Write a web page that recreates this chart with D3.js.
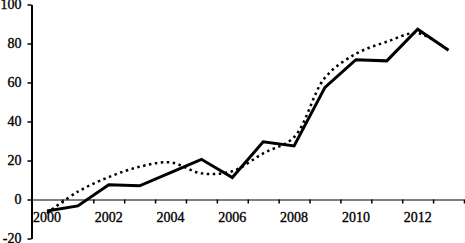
<!DOCTYPE html>
<html>
<head>
<meta charset="utf-8">
<script src="https://cdn.jsdelivr.net/npm/d3@7"></script>
<style>
html, body { margin: 0; padding: 0; background: #fff; }
svg { display: block; }
text { font-family: "Liberation Serif", "Times New Roman", serif; font-size: 14px; fill: #000; }
</style>
</head>
<body>
<svg id="chart" width="465" height="243"></svg>
<script>
const years = [2000, 2001, 2002, 2003, 2004, 2005, 2006, 2007, 2008, 2009, 2010, 2011, 2012, 2013];
const actualValues = [-5.9, -3.3, 7.6, 7.0, 13.8, 20.6, 11.3, 29.6, 27.5, 57.5, 71.7, 71.1, 87.3, 76.5];
const trendValues = [-7, 4, 11.5, 16.8, 19.0, 13.4, 14.5, 23.7, 32, 62.5, 74.7, 80.9, 85.3, 76.5];
const yTicks = [-20, 0, 20, 40, 60, 80, 100];
const xLabels = [2000, 2002, 2004, 2006, 2008, 2010, 2012];

const svg = d3.select("#chart");
const mLeft = 31.5, mRight = 464, mTop = 4.5, mBottom = 238.5;

const y = d3.scaleLinear().domain([-20, 100]).range([mBottom, mTop]);
const xb = d3.scaleBand().domain(years).range([mLeft, mRight]).paddingInner(0).paddingOuter(0);
const xi = d3.scaleLinear().domain([0, years.length]).range([mLeft, mRight]);
const xc = d => xb(d) + xb.bandwidth() / 2;

function styleText(g) {
  g.selectAll("text")
    .style("font-family", "'Liberation Serif', 'Times New Roman', serif")
    .style("font-size", "14px")
    .attr("fill", "#000")
    .attr("stroke", "#000")
    .attr("stroke-width", 0.35);
}

// x axis (at y=0) with ticks at category boundaries
const xAxisG = svg.append("g").attr("transform", `translate(0,${y(0)})`)
  .call(d3.axisBottom(xi).tickValues(d3.range(1, years.length + 1)).tickFormat("").tickSize(4).tickSizeOuter(0));
xAxisG.select(".domain").attr("stroke", "#000").attr("stroke-width", 1);
xAxisG.selectAll(".tick line").attr("stroke", "#000").attr("stroke-width", 1.5);

// x labels at category centres
const xLab = svg.append("g").attr("transform", `translate(0,${y(0)})`)
  .call(d3.axisBottom(xb).tickValues(xLabels).tickSize(0).tickPadding(12.6));
xLab.select(".domain").remove();
styleText(xLab);

// y axis
const yAxisG = svg.append("g").attr("transform", `translate(${mLeft},0)`)
  .call(d3.axisLeft(y).tickValues(yTicks).tickFormat(d => String(d)).tickSize(4).tickPadding(6).tickSizeOuter(0));
yAxisG.select(".domain").attr("stroke", "#000").attr("stroke-width", 2);
yAxisG.selectAll(".tick line").attr("stroke", "#000").attr("stroke-width", 1.5);
styleText(yAxisG);

// trend (dotted)
const trendLine = d3.line().x((d, i) => xc(years[i])).y(d => y(d)).curve(d3.curveCatmullRom.alpha(0.5));
svg.append("path").datum(trendValues).attr("d", trendLine)
  .attr("fill", "none").attr("stroke", "#000").attr("stroke-width", 2.5)
  .attr("stroke-dasharray", "2.5,3.5");

// actual (solid)
const actualLine = d3.line().x((d, i) => xc(years[i])).y(d => y(d));
svg.append("path").datum(actualValues).attr("d", actualLine)
  .attr("fill", "none").attr("stroke", "#000").attr("stroke-width", 3).attr("stroke-linejoin", "miter");
</script>
</body>
</html>
